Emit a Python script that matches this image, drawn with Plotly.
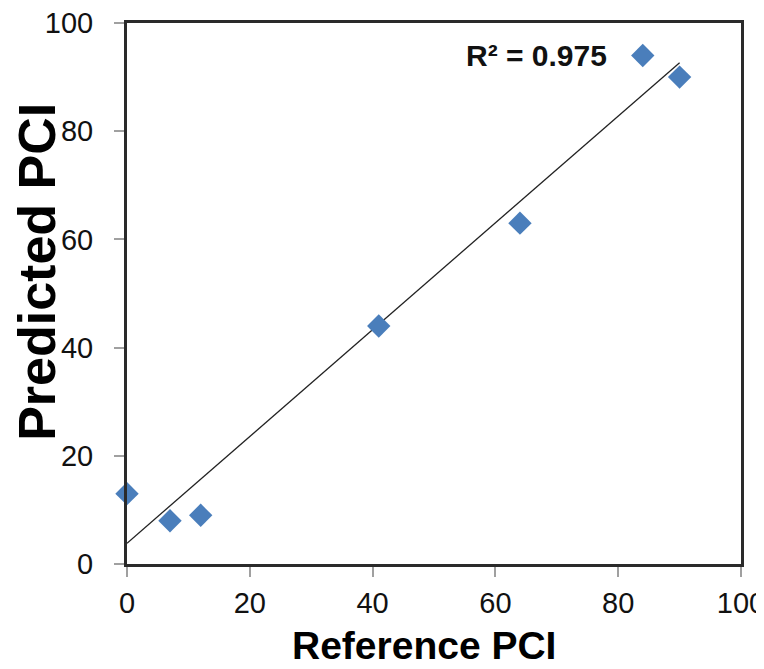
import numpy as np
import plotly.graph_objects as go

reference_pci = [0, 7, 12, 41, 64, 84, 90]
predicted_pci = [13, 8, 9, 44, 63, 94, 90]
r2_label = "R² = 0.975"
x_title = "Reference PCI"
y_title = "Predicted PCI"
tick_vals = [0, 20, 40, 60, 80, 100]

slope, intercept = np.polyfit(reference_pci, predicted_pci, 1)
line_x = [min(reference_pci), max(reference_pci)]
line_y = [slope * v + intercept for v in line_x]

fig = go.Figure()
fig.add_trace(go.Scatter(x=line_x, y=line_y, mode="lines",
                         line=dict(color="#222222", width=1.3),
                         showlegend=False, hoverinfo="skip", cliponaxis=False))
fig.add_trace(go.Scatter(x=reference_pci, y=predicted_pci, mode="markers",
                         marker=dict(symbol="diamond", size=18, color="#4A7EBB",
                                     line=dict(width=0)),
                         showlegend=False, cliponaxis=False))

axis_common = dict(range=[0, 100], tickvals=tick_vals, showgrid=False, zeroline=False,
                   showline=True, linecolor="#2a2a2a", linewidth=3, mirror=True,
                   ticks="outside", ticklen=10, tickcolor="#a0a0a0", tickwidth=1.5,
                   automargin=False, ticklabeloverflow="allow",
                   tickfont=dict(family="Liberation Sans, Arial", size=29, color="#111111"))

fig.update_xaxes(**axis_common, ticklabelstandoff=1)
fig.update_yaxes(**axis_common, ticklabelstandoff=15)

fig.add_annotation(text="<b>" + r2_label + "</b>", x=78.5, y=94, xref="x", yref="y",
                   xanchor="right", yanchor="middle", showarrow=False,
                   font=dict(family="Liberation Sans, Arial", size=30, color="#111111"))

fig.add_annotation(text="<b>" + x_title + "</b>", x=48.3, xref="x", y=0, yref="paper",
                   yshift=-81, xanchor="center", yanchor="middle", showarrow=False,
                   font=dict(family="Liberation Sans, Arial", size=39, color="#000000"))
fig.add_annotation(text="<b>" + y_title + "</b>", x=0, xref="paper", xshift=-90,
                   y=54.0, yref="y", textangle=-90, xanchor="center", yanchor="middle",
                   showarrow=False,
                   font=dict(family="Liberation Sans, Arial", size=52, color="#000000"))

# The page body adds an 8px margin, so the figure is sized to end at the window edge.
fig.update_layout(width=756, height=661, plot_bgcolor="white", paper_bgcolor="white",
                  margin=dict(l=119, r=23, t=15, b=105))

fig.write_html("out.html")
